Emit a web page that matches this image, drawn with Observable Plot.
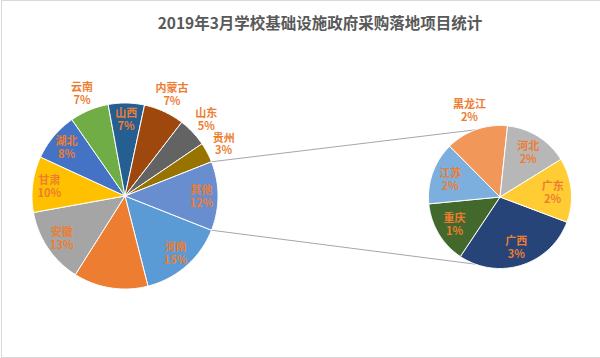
<!DOCTYPE html>
<html><head><meta charset="utf-8">
<script src="https://cdn.jsdelivr.net/npm/d3@7"></script>
<script src="https://cdn.jsdelivr.net/npm/@observablehq/plot@0.6"></script>
<style>
body{margin:0;background:#fff;font-family:"Noto Sans CJK SC","Noto Sans",sans-serif;}
#wrap{position:absolute;left:0;top:0;width:600px;height:358px;}
#title{position:absolute;left:0;top:0;width:600px;height:40px;box-sizing:border-box;padding:12px 0 0 40px;text-align:center;font-size:15.5px;line-height:20px;font-weight:bold;color:#595959;}
#chart{position:absolute;left:0;top:40px;}
#frame{position:absolute;left:1px;top:0;width:599px;height:358px;box-sizing:border-box;border:1px solid #d9d9d9;border-right:none;pointer-events:none;z-index:5;}
</style></head>
<body>
<div id="wrap">
  <div id="title">2019年3月学校基础设施政府采购落地项目统计</div>
  <div id="chart"></div>
  <div id="frame"></div>
</div>
<script>
// ---- data ----
const mainNames = ["河南", "", "安徽", "甘肃", "湖北", "云南", "山西", "内蒙古", "山东", "贵州"];
const mainValues = [15.1, 13.0, 13.25, 9.75, 8.5, 6.8, 6.3, 7.1, 5.1, 3.5];
const mainLabels = ["15%", "", "13%", "10%", "8%", "7%", "7%", "7%", "5%", "3%"];
const otherName = "其他";
const otherLabel = "12%";
const subNames = ["广西", "重庆", "江苏", "黑龙江", "河北", "广东"];
const subValues = [3.45, 1.7, 1.7, 1.7, 1.75, 1.75];
const subLabels = ["3%", "1%", "2%", "2%", "2%", "2%"];

// ---- styles / layout ----
const mainColors = ["#5B9BD5", "#ED7D31", "#A5A5A5", "#FFC000", "#4472C4", "#70AD47", "#255E91", "#9E480E", "#636363", "#997300"];
const otherColor = "#698ED0";
const subColors = ["#264478", "#43682B", "#7CAFDD", "#F1975A", "#B7B7B7", "#FFCD33"];
const outsideMain = new Set(["云南", "内蒙古", "山东", "贵州"]);
const outsideSub = new Set(["黑龙江"]);
const M = {cx: 124.5, cy: 195.5, r: 93};
const S = {cx: 499.5, cy: 196.5, r: 71.5, start: 110.6};
const TOP = 40, W = 600, H = 318;

const rad = d => d * Math.PI / 180;
const pt = (c, r, a) => ({x: c.cx + r * Math.sin(rad(a)), y: c.cy - r * Math.cos(rad(a))});

function slices(names, values, labels, colors, start) {
  const total = d3.sum(values);
  let a = start;
  return names.map((n, i) => {
    const span = values[i] / total * 360;
    const s = {id: (n || "x") + i, name: n, label: labels[i], color: colors[i], a0: a, a1: a + span};
    a += span;
    return s;
  });
}

const otherValue = d3.sum(subValues);
const mainTotal = d3.sum(mainValues) + otherValue;
const otherSpan = otherValue / mainTotal * 360;
const mainStart = 90 + otherSpan / 2;
const mainSlices = slices(
  [...mainNames, otherName], [...mainValues, otherValue], [...mainLabels, otherLabel],
  [...mainColors, otherColor], mainStart);
const subSlices = slices(subNames, subValues, subLabels, subColors, S.start);

function polygon(s, c, pre) {
  const n = Math.max(2, Math.ceil((s.a1 - s.a0) / 1));
  const pts = [{id: pre + s.id, color: s.color, ...pt(c, 0, 0)}];
  for (let k = 0; k <= n; k++) {
    const a = s.a0 + (s.a1 - s.a0) * k / n;
    pts.push({id: pre + s.id, color: s.color, ...pt(c, c.r, a)});
  }
  pts.push({id: pre + s.id, color: s.color, ...pt(c, 0, 0)});
  return pts;
}
const polys = [
  ...mainSlices.flatMap(s => polygon(s, M, "m")),
  ...subSlices.flatMap(s => polygon(s, S, "s"))
];

const labelPts = [
  ...mainSlices.filter(s => s.name).map(s => ({
    text: s.name + "\n" + s.label,
    ...pt(M, M.r * (outsideMain.has(s.name) ? 1.2 : 0.82), (s.a0 + s.a1) / 2)})),
  ...subSlices.map(s => ({
    text: s.name + "\n" + s.label,
    ...pt(S, S.r * (outsideSub.has(s.name) ? 1.29 : 0.74), (s.a0 + s.a1) / 2)}))
];

const other = mainSlices[mainSlices.length - 1];
const connectors = [
  {id: "u", ...pt(M, M.r, other.a0 % 360)}, {id: "u", ...pt(S, S.r, 340)},
  {id: "l", ...pt(M, M.r, other.a1 % 360)}, {id: "l", ...pt(S, S.r, 200)}
];

const chart = Plot.plot({
  width: W, height: H, margin: 0,
  x: {domain: [0, W], range: [0, W], axis: null},
  y: {domain: [TOP, TOP + H], range: [0, H], axis: null},
  marks: [
    Plot.line(connectors, {x: "x", y: "y", z: "id", stroke: "#a6a6a6", strokeWidth: 1}),
    Plot.line(polys, {x: "x", y: "y", z: "id", fill: "color", stroke: "white", strokeWidth: 1, strokeLinejoin: "round"}),
    Plot.text(labelPts, {x: "x", y: "y", text: "text", fill: "#ED7D31", fontSize: 11, fontWeight: "bold",
      lineHeight: 1.18, fontFamily: "Noto Sans CJK SC"})
  ]
});
document.getElementById("chart").appendChild(chart);
</script>
</body></html>
